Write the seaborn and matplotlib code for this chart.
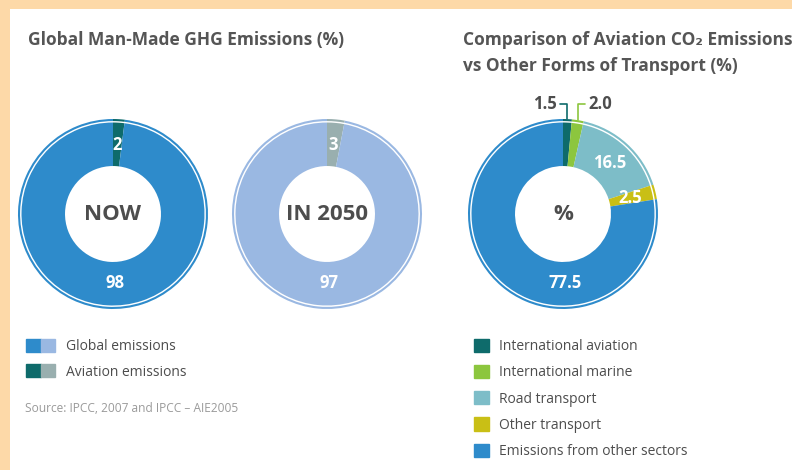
import matplotlib
matplotlib.use("Agg")
import numpy as np
import matplotlib.pyplot as plt
import seaborn as sns
from matplotlib.patches import Patch, Rectangle
from matplotlib.legend_handler import HandlerTuple

# ---- data ----
ghg_labels = ["Aviation emissions", "Global emissions"]
ghg_now = [2, 98]
ghg_2050 = [3, 97]
now_colors = ["#0E6B6B", "#2E8BCB"]
future_colors = ["#99AFAF", "#9AB8E2"]

transport_labels = ["International aviation", "International marine", "Road transport",
                    "Other transport", "Emissions from other sectors"]
transport_values = [1.5, 2.0, 16.5, 2.5, 77.5]
transport_text = ["1.5", "2.0", "16.5", "2.5", "77.5"]
transport_colors = ["#0E6B6B", "#8CC63E", "#7DBDC8", "#C9BF15", "#2E8BCB"]

W, H = 792, 470
DARK = "#4D4D4D"

sns.set_theme(style="white")
plt.rcParams["font.family"] = ["Open Sans", "DejaVu Sans"]

fig = plt.figure(figsize=(W / 100, H / 100), dpi=100, facecolor="#FDD9A8")
fig.add_artist(Rectangle((10 / W, 0), 1, 1 - 9 / H, transform=fig.transFigure,
                         facecolor="white", edgecolor="none", zorder=0))


def donut(cx, cy, values, colors, texts, center_text, callout=False):
    r = 95
    ax = fig.add_axes([(cx - r) / W, (H - cy - r) / H, 2 * r / W, 2 * r / H])
    # thin outer outline ring
    ax.pie(values, colors=colors, startangle=90, counterclock=False, radius=1.0,
           wedgeprops=dict(width=0.022, linewidth=0))
    wedges, _ = ax.pie(values, colors=colors, startangle=90, counterclock=False,
                       radius=0.963, wedgeprops=dict(width=0.458, linewidth=0))
    ax.set_xlim(-1, 1)
    ax.set_ylim(-1, 1)
    ax.set_aspect("equal")
    ax.axis("off")
    ax.text(0, 0, center_text, ha="center", va="center", fontsize=16,
            fontweight="bold", color=DARK)
    side = -1
    for w, v, t, c in zip(wedges, values, texts, colors):
        ang = np.deg2rad((w.theta1 + w.theta2) / 2)
        if callout and v < 2.5:
            x0 = np.cos(ang)
            y1 = 1.16
            ax.plot([x0, x0, x0 + side * 0.08], [np.sin(ang), y1, y1], color=c,
                    lw=1.2, clip_on=False)
            ax.text(x0 + side * 0.11, y1, t, ha="right" if side < 0 else "left",
                    va="center", fontsize=12, fontweight="bold", color=DARK)
            side = -side
            continue
        if v == max(values):
            ang = np.deg2rad(-88)
        ax.text(0.73 * np.cos(ang), 0.73 * np.sin(ang), t, ha="center", va="center",
                fontsize=12, fontweight="bold", color="white")
    return ax


donut(113, 214, ghg_now, now_colors, [str(v) for v in ghg_now], "NOW")
donut(327, 214, ghg_2050, future_colors, [str(v) for v in ghg_2050], "IN 2050")
donut(563, 214, transport_values, transport_colors, transport_text, "%", callout=True)

# ---- titles ----
title_kw = dict(fontsize=12.5, fontweight="bold", color="#555555", va="center")
fig.text(28 / W, 1 - 40 / H, "Global Man-Made GHG Emissions (%)", **title_kw)
fig.text(463 / W, 1 - 40 / H, "Comparison of Aviation CO\u2082 Emissions", **title_kw)
fig.text(463 / W, 1 - 66 / H, "vs Other Forms of Transport (%)", **title_kw)

# ---- legends ----
left_handles = [(Patch(color=now_colors[1]), Patch(color=future_colors[1])),
                (Patch(color=now_colors[0]), Patch(color=future_colors[0]))]
fig.legend(left_handles, [ghg_labels[1], ghg_labels[0]],
           handler_map={tuple: HandlerTuple(ndivide=None, pad=0)},
           loc="upper left", bbox_to_anchor=(26 / W, 1 - 339 / H), frameon=False,
           fontsize=10, handlelength=2.1, handleheight=1.08, handletextpad=0.8,
           labelspacing=0.72, borderpad=0, borderaxespad=0, labelcolor=DARK)

right_handles = [Patch(color=c) for c in transport_colors]
fig.legend(right_handles, transport_labels, loc="upper left",
           bbox_to_anchor=(474 / W, 1 - 339 / H), frameon=False, fontsize=10,
           handlelength=1.08, handleheight=1.08, handletextpad=0.72,
           labelspacing=0.78, borderpad=0, borderaxespad=0, labelcolor=DARK)

fig.text(25 / W, 1 - 408 / H, "Source: IPCC, 2007 and IPCC \u2013 AIE2005", fontsize=8.6,
         color="#9A9A9A", va="center")

fig.savefig("out.png", dpi=100, facecolor=fig.get_facecolor())
